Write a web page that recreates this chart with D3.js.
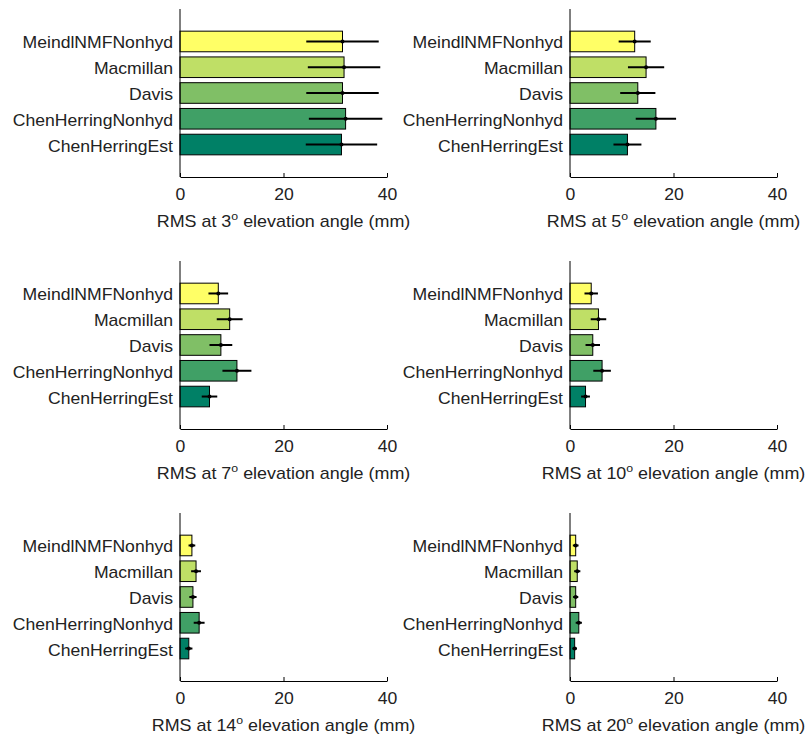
<!DOCTYPE html>
<html>
<head>
<meta charset="utf-8">
<script src="https://cdn.jsdelivr.net/npm/d3@7"></script>
<style>
  html, body { margin: 0; padding: 0; background: #fff; }
  svg { display: block; font-family: "Liberation Sans", Arial, sans-serif; }
</style>
</head>
<body>
<svg id="chart" width="807" height="740"></svg>
<script>
// Mapping functions, top to bottom
const methods = ["MeindlNMFNonhyd", "Macmillan", "Davis", "ChenHerringNonhyd", "ChenHerringEst"];
// Elevation angles (degrees), one panel each
const angles = [3, 5, 7, 10, 14, 20];
// RMS (mm) and its spread for each method, per elevation angle
const rms3  = [31.4, 31.7, 31.4, 32.0, 31.2];
const err3  = [7.0, 7.0, 7.0, 7.1, 6.9];
const rms5  = [12.5, 14.7, 13.1, 16.6, 11.1];
const err5  = [3.1, 3.5, 3.4, 3.9, 2.7];
const rms7  = [7.4, 9.6, 7.9, 11.0, 5.7];
const err7  = [1.9, 2.5, 2.2, 2.8, 1.5];
const rms10 = [4.1, 5.5, 4.4, 6.2, 3.0];
const err10 = [1.3, 1.5, 1.4, 1.7, 0.85];
const rms14 = [2.3, 3.1, 2.5, 3.7, 1.7];
const err14 = [0.65, 0.95, 0.7, 1.05, 0.7];
const rms20 = [1.1, 1.4, 1.1, 1.7, 0.9];
const err20 = [0.55, 0.6, 0.5, 0.6, 0.45];
const xTicks = [0, 20, 40];
// summer-style colour ramp, one per method
const colors = ["#ffff66", "#bfdf66", "#80bf66", "#40a066", "#008066"];

const rmsByAngle = [rms3, rms5, rms7, rms10, rms14, rms20];
const errByAngle = [err3, err5, err7, err10, err14, err20];

const svg = d3.select("#chart");

const panelW = 207, plotTop = 9, plotBottom = 177;
const colX = [180, 570];
const rowY = [0, 252, 504];
const fontSize = 16, stretch = 1.1;

const x = d3.scaleLinear().domain([0, 40]).range([0, panelW]);
const y = d3.scaleBand().domain(methods).range([plotTop, plotBottom])
  .paddingInner(0.2).paddingOuter(0.86);

angles.forEach((ang, i) => {
  const g = svg.append("g")
    .attr("transform", `translate(${colX[i % 2]},${rowY[Math.floor(i / 2)]})`);
  const vals = rmsByAngle[i], errs = errByAngle[i];
  const rows = methods.map((m, k) => ({ m, v: vals[k], e: errs[k], c: colors[k] }));

  // bars
  g.selectAll("rect.bar").data(rows).join("rect")
    .attr("class", "bar")
    .attr("x", x(0))
    .attr("y", d => y(d.m))
    .attr("width", d => x(d.v) - x(0))
    .attr("height", y.bandwidth())
    .attr("fill", d => d.c)
    .attr("stroke", "#000")
    .attr("stroke-width", 1);

  // error bars
  g.selectAll("line.err").data(rows).join("line")
    .attr("class", "err")
    .attr("x1", d => x(d.v - d.e))
    .attr("x2", d => x(d.v + d.e))
    .attr("y1", d => y(d.m) + y.bandwidth() / 2)
    .attr("y2", d => y(d.m) + y.bandwidth() / 2)
    .attr("stroke", "#000")
    .attr("stroke-width", 2);
  g.selectAll("circle.pt").data(rows).join("circle")
    .attr("class", "pt")
    .attr("cx", d => x(d.v))
    .attr("cy", d => y(d.m) + y.bandwidth() / 2)
    .attr("r", 2)
    .attr("fill", "#000");

  // left axis: spine with category labels
  g.append("line")
    .attr("x1", 0).attr("x2", 0)
    .attr("y1", plotTop).attr("y2", plotBottom)
    .attr("stroke", "#000");
  g.selectAll("text.cat").data(methods).join("text")
    .attr("class", "cat")
    .attr("transform", d => `translate(-7,${y(d) + y.bandwidth() / 2 + 7}) scale(${stretch},1)`)
    .attr("text-anchor", "end")
    .attr("font-size", fontSize)
    .attr("fill", "#222")
    .text(d => d);

  // bottom axis with inward ticks
  const xa = g.append("g").attr("transform", `translate(0,${plotBottom})`)
    .call(d3.axisBottom(x).tickValues(xTicks).tickSizeInner(-4).tickSizeOuter(0).tickPadding(11.5));
  xa.select(".domain").attr("stroke", "#000");
  xa.selectAll(".tick line").attr("stroke", "#000");
  xa.selectAll(".tick text")
    .attr("font-size", fontSize)
    .attr("font-family", "\"Liberation Sans\", Arial, sans-serif")
    .attr("transform", `scale(${stretch},1)`)
    .attr("fill", "#222");

  // axis title with degree superscript
  const t = g.append("text")
    .attr("transform", `translate(${panelW / 2},227) scale(1.12,1)`)
    .attr("text-anchor", "middle")
    .attr("font-size", fontSize)
    .attr("fill", "#222");
  t.append("tspan").text(`RMS at ${ang}`);
  t.append("tspan").attr("dy", -7).attr("font-size", 11).text("o");
  t.append("tspan").attr("dy", 7).text(" elevation angle (mm)");
});
</script>
</body>
</html>
